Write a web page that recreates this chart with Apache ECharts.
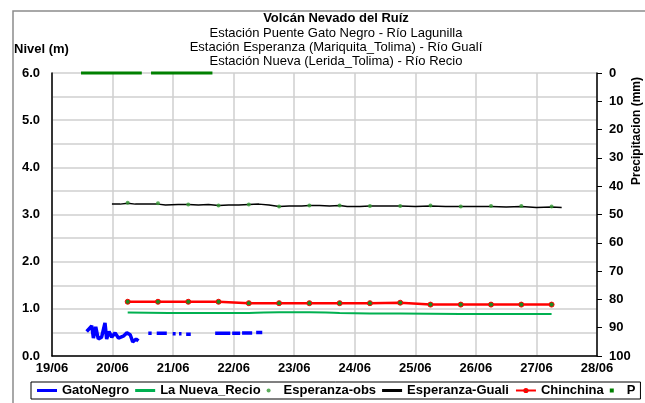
<!DOCTYPE html>
<html>
<head>
<meta charset="utf-8">
<script src="https://cdn.jsdelivr.net/npm/echarts@6/dist/echarts.min.js"></script>
<style>
html, body { margin: 0; padding: 0; background: #fff; }
#chart { width: 645px; height: 403px; }
</style>
</head>
<body>
<div id="chart"></div>
<script>
// datos (nivel en m, precipitacion en mm)
const gatoTimes = ['06-19 13:45', '06-19 15:45', '06-19 16:25', '06-19 17:20', '06-19 18:20', '06-19 19:40', '06-19 21:00', '06-19 21:40', '06-19 22:35', '06-19 23:40', '06-20 01:00', '06-20 02:20', '06-20 04:15', '06-20 05:40', '06-20 07:00', '06-20 08:00', '06-20 09:20', '06-20 10:15', '06-20 12:00',
    '06-20 14:10', '06-20 15:30', '06-20 16:30', '06-20 17:30', '06-20 21:30', '06-20 22:40', '06-20 23:50', '06-21 01:00', '06-21 01:40', '06-21 02:20', '06-21 03:20', '06-21 04:10', '06-21 05:10', '06-21 07:00', '06-21 11:00',
    '06-21 16:40', '06-21 22:40', '06-21 23:00', '06-21 23:25', '06-22 02:35', '06-22 03:00', '06-22 03:20', '06-22 07:20', '06-22 08:10', '06-22 08:55', '06-22 11:20']
const gatoValues = [0.52, 0.64, 0.38, 0.62, 0.36, 0.40, 0.70, 0.36, 0.52, 0.40, 0.49, 0.38, 0.42, 0.49, 0.45, 0.30, 0.36, 0.32, '-',
    0.48, 0.48, '-', 0.48, 0.48, '-', 0.47, 0.47, '-', 0.47, 0.47, '-', 0.46, 0.46, '-',
    0.48, 0.48, '-', 0.48, 0.48, '-', 0.49, 0.49, '-', 0.50, 0.50]

const nuevaTimes = ['06-20 06:00', '06-21 06:00', '06-22 06:00', '06-22 18:00', '06-23 06:00', '06-23 18:00', '06-24 18:00', '06-25 18:00', '06-27 06:00']
const nuevaValues = [0.92, 0.91, 0.91, 0.93, 0.93, 0.91, 0.90, 0.89, 0.89]

const obsTimes = ['06-20 06:00', '06-20 18:00', '06-21 06:00', '06-21 18:00', '06-22 06:00', '06-22 18:00', '06-23 06:00', '06-23 18:00', '06-24 06:00', '06-24 18:00', '06-25 06:00', '06-25 18:00', '06-26 06:00', '06-26 18:00', '06-27 06:00']
const obsValues = [3.25, 3.24, 3.21, 3.19, 3.21, 3.17, 3.19, 3.19, 3.18, 3.18, 3.19, 3.17, 3.18, 3.18, 3.17]

const gualiTimes = ['06-19 23:45', '06-20 03:00', '06-20 06:00', '06-20 09:00', '06-20 14:00', '06-20 18:00', '06-20 21:00', '06-21 02:00', '06-21 06:00', '06-21 10:00', '06-21 14:00', '06-21 18:00', '06-21 22:00',
    '06-22 02:00', '06-22 06:00', '06-22 10:00', '06-22 14:00', '06-22 18:00', '06-22 22:00', '06-23 03:00', '06-23 06:00', '06-23 10:00', '06-23 14:00', '06-23 18:00', '06-23 21:00',
    '06-24 02:00', '06-24 06:00', '06-24 12:00', '06-24 18:00', '06-25 00:00', '06-25 06:00', '06-25 12:00', '06-25 18:00', '06-26 00:00', '06-26 06:00', '06-26 12:00', '06-26 18:00', '06-27 00:00', '06-27 06:00', '06-27 10:00']
const gualiValues = [3.22, 3.22, 3.24, 3.22, 3.22, 3.22, 3.20, 3.21, 3.21, 3.20, 3.21, 3.19, 3.20,
    3.20, 3.21, 3.22, 3.20, 3.17, 3.18, 3.18, 3.19, 3.19, 3.18, 3.19, 3.17,
    3.17, 3.18, 3.18, 3.18, 3.17, 3.18, 3.17, 3.17, 3.17, 3.17, 3.16, 3.17, 3.15, 3.16, 3.15]

const chinTimes = obsTimes
const chinValues = [1.15, 1.15, 1.15, 1.15, 1.12, 1.12, 1.12, 1.12, 1.12, 1.13, 1.09, 1.09, 1.09, 1.09, 1.09]

const pTimes = ['06-19 11:30', '06-20 11:35', '06-20 13:30', '06-20 15:15', '06-21 15:35']
const pValues = [0, 0, '-', 0, 0]

const levelLabels = ['0.0', '1.0', '2.0', '3.0', '4.0', '5.0', '6.0']

const YEAR = '2012-'
const DAY = 24 * 3600 * 1000
const FONT = '"Liberation Sans", Arial, sans-serif'
const pairs = (times, values) => times.map((t, i) => [YEAR + t, values[i]])
const lineIcon = 'path://M0,0H20V3H0Z'

const chart = echarts.init(document.getElementById('chart'))

const option = {
    animation: false,
    backgroundColor: '#fff',
    title: {
        text: 'Volcán Nevado del Ruíz',
        subtext: 'Estación Puente Gato Negro - Río Lagunilla\nEstación Esperanza (Mariquita_Tolima) - Río Gualí\nEstación Nueva (Lerida_Tolima) - Río Recio',
        left: 336,
        top: 11,
        textAlign: 'center',
        itemGap: 1,
        padding: 0,
        textStyle: { fontFamily: FONT, fontSize: 13, fontWeight: 'bold', color: '#000', lineHeight: 14 },
        subtextStyle: { fontFamily: FONT, fontSize: 13, color: '#000', lineHeight: 14 },
    },
    graphic: [
        {
            type: 'rect', silent: true, z: -10,
            shape: { x: 13, y: 11, width: 700, height: 500 },
            style: { fill: 'none', stroke: '#8c8c8c', lineWidth: 1.5 },
        },
        {
            type: 'text', silent: true, x: 14, y: 49,
            style: { text: 'Nivel (m)', font: 'bold 13px ' + FONT, fill: '#000', align: 'left', verticalAlign: 'middle' },
        },
        {
            type: 'text', silent: true, x: 637, y: 131, rotation: Math.PI / 2,
            style: { text: 'Precipitacion (mm)', font: 'bold 12px ' + FONT, fill: '#000', align: 'center', verticalAlign: 'middle' },
        },
    ],
    legend: {
        left: 31,
        top: 382,
        itemWidth: 20,
        itemHeight: 4,
        itemGap: 6,
        padding: [2, 5, 2, 6],
        borderColor: '#000',
        borderWidth: 1,
        textStyle: { fontFamily: FONT, fontSize: 13, fontWeight: 'bold', color: '#000' },
        data: [
            { name: 'GatoNegro', icon: lineIcon },
            { name: 'La Nueva_Recio', icon: lineIcon },
            { name: 'Esperanza-obs', icon: 'circle' },
            { name: 'Esperanza-Guali', icon: lineIcon },
            { name: 'Chinchina' },
            { name: 'P', icon: 'path://M0,0H2V2H0Z' },
        ],
    },
    grid: {
        left: 52,
        right: 48,
        top: 73,
        bottom: 47,
        containLabel: false,
        outerBoundsMode: 'none',
    },
    xAxis: {
        type: 'time',
        min: YEAR + '06-19 00:00',
        max: YEAR + '06-28 00:00',
        minInterval: DAY,
        maxInterval: DAY,
        axisLine: { lineStyle: { color: '#000', width: 1.5 } },
        axisTick: { show: false },
        axisLabel: {
            formatter: '{dd}/{MM}',
            fontFamily: FONT, fontSize: 13, fontWeight: 'bold', color: '#000',
            margin: 6, showMinLabel: true, showMaxLabel: true,
        },
        splitLine: { show: true, lineStyle: { color: '#cfcfcf', width: 1.5 } },
    },
    yAxis: [
        {
            type: 'value',
            min: 0,
            max: 6,
            interval: 0.5,
            axisLine: { show: true, lineStyle: { color: '#000', width: 1.5 } },
            axisTick: { show: false },
            axisLabel: {
                fontFamily: FONT, fontSize: 13, fontWeight: 'bold', color: '#000', margin: 12,
                formatter: v => levelLabels.includes(v.toFixed(1)) && v % 1 === 0 ? v.toFixed(1) : '',
            },
            splitLine: { lineStyle: { color: '#cfcfcf', width: 1.5 } },
        },
        {
            type: 'value',
            position: 'right',
            inverse: true,
            min: 0,
            max: 100,
            interval: 10,
            axisLine: { show: true, lineStyle: { color: '#000', width: 1.5 } },
            axisTick: { show: true, length: 5, lineStyle: { color: '#000', width: 1 } },
            axisLabel: { fontFamily: FONT, fontSize: 13, fontWeight: 'bold', color: '#000', margin: 12 },
            splitLine: { show: false },
        },
    ],
    series: [
        {
            name: 'GatoNegro',
            type: 'line',
            color: '#0000ff',
            symbol: 'none',
            lineStyle: { width: 3.5 },
            data: pairs(gatoTimes, gatoValues),
        },
        {
            name: 'La Nueva_Recio',
            type: 'line',
            color: '#00b050',
            symbol: 'none',
            smooth: 0.4,
            lineStyle: { width: 2 },
            data: pairs(nuevaTimes, nuevaValues),
        },
        {
            name: 'Esperanza-obs',
            type: 'scatter',
            color: '#339933',
            symbol: 'circle',
            symbolSize: 4,
            z: 4,
            data: pairs(obsTimes, obsValues),
        },
        {
            name: 'Esperanza-Guali',
            type: 'line',
            color: '#000',
            symbol: 'none',
            lineStyle: { width: 1.5 },
            data: pairs(gualiTimes, gualiValues),
        },
        {
            name: 'Chinchina',
            type: 'line',
            color: '#ff0000',
            symbol: 'circle',
            symbolSize: 5,
            itemStyle: { color: '#1f8a1f', borderColor: '#ff0000', borderWidth: 1 },
            lineStyle: { width: 2.5, color: '#ff0000' },
            data: pairs(chinTimes, chinValues),
        },
        {
            name: 'P',
            type: 'line',
            yAxisIndex: 1,
            color: '#008000',
            symbol: 'none',
            clip: false,
            lineStyle: { width: 3 },
            data: pairs(pTimes, pValues),
        },
    ],
}

chart.setOption(option)
window.addEventListener('resize', () => {
    chart.resize()
})
</script>
</body>
</html>
